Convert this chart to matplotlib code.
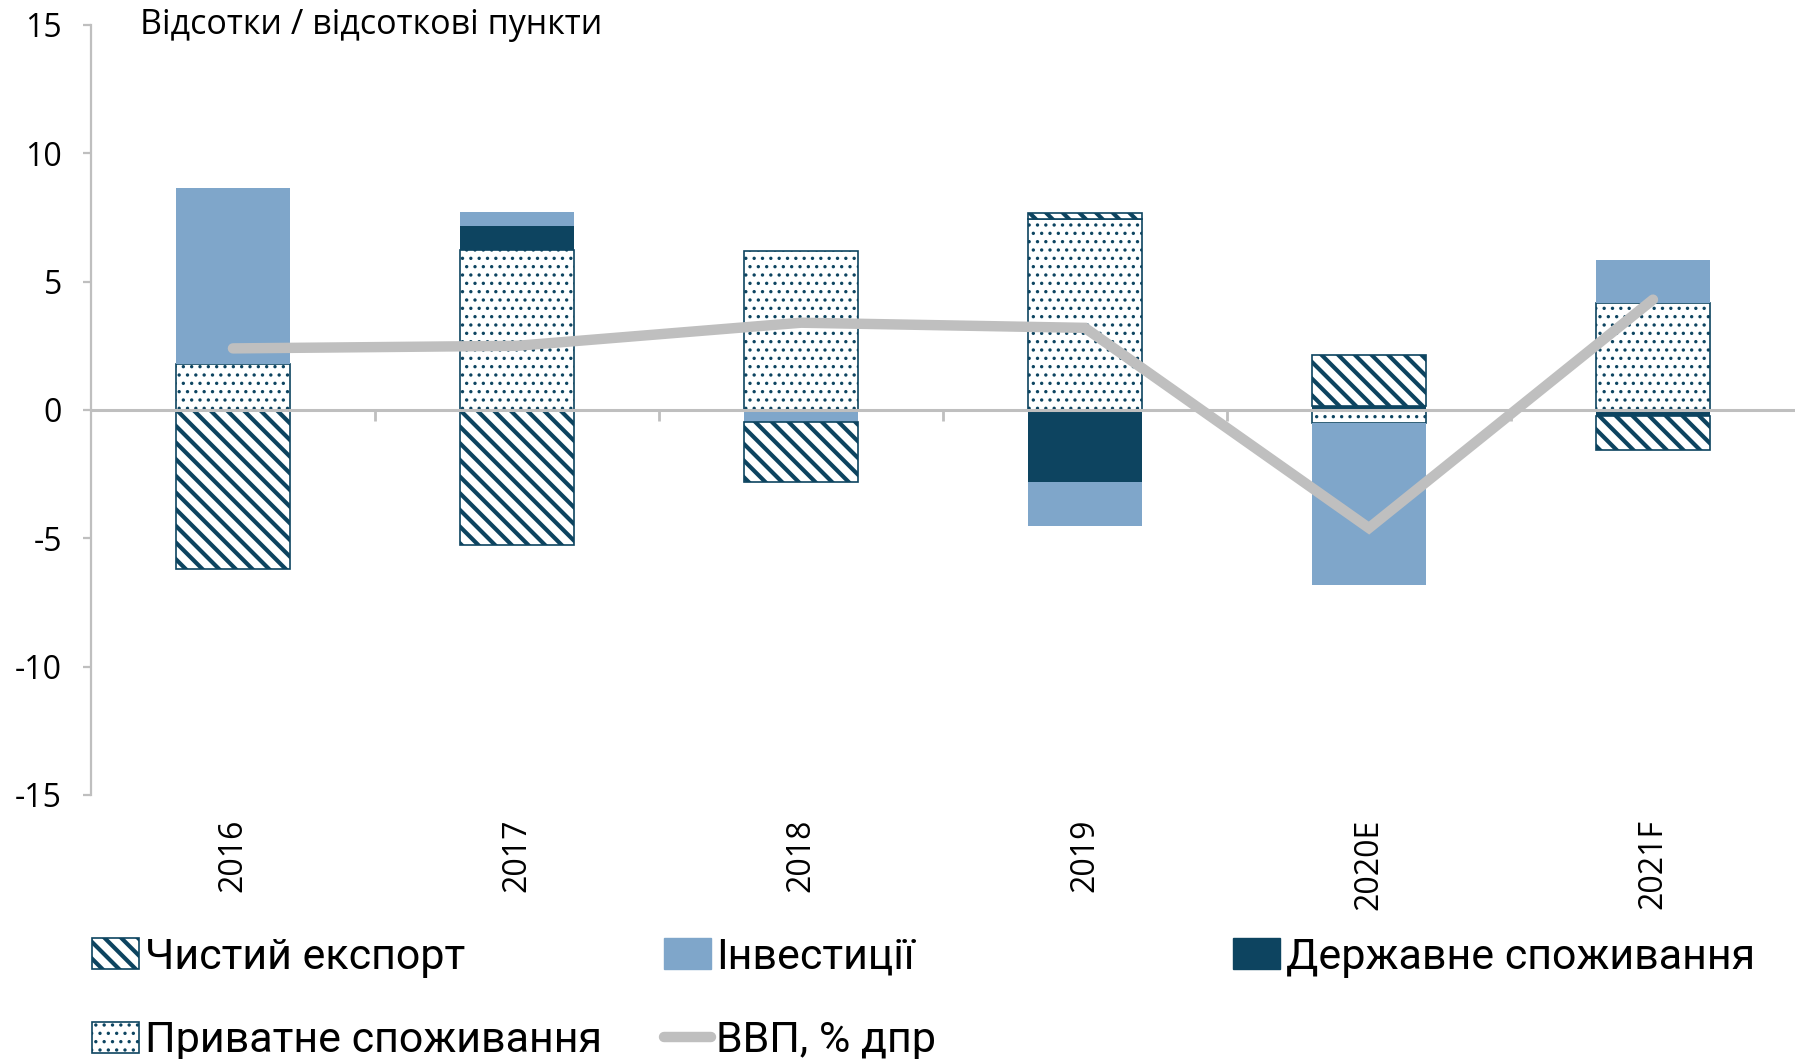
import numpy as np
import matplotlib
matplotlib.use("Agg")
import matplotlib.pyplot as plt
from matplotlib.patches import Patch
from matplotlib.lines import Line2D

years = ["2016", "2017", "2018", "2019", "2020E", "2021F"]
private = [1.78, 6.24, 6.19, 7.44, -0.50, 4.16]
gov = [0.0, 0.94, 0.0, -2.82, 0.15, -0.23]
inv = [6.86, 0.52, -0.45, -1.70, -6.32, 1.69]
netexp = [-6.20, -5.26, -2.35, 0.25, 2.00, -1.33]
gdp = [2.4, 2.5, 3.4, 3.2, -4.6, 4.3]

navy = "#0D4460"
light = "#7FA6CA"
grey = "#BFBFBF"

plt.rcParams["font.family"] = ["Open Sans", "DejaVu Sans"]
plt.rcParams["axes.unicode_minus"] = False
plt.rcParams["hatch.color"] = navy

stripe_lw = 3.0
dot_lw = 1.2


def set_hlw(artists, lw):
    for a in artists:
        if hasattr(a, "set_hatch_linewidth"):
            a.set_hatch_linewidth(lw)


fig = plt.figure(figsize=(18.04, 10.59), dpi=100)
ax = fig.add_axes([0.0504, 0.2493, 0.9446, 0.7271])

x = np.arange(len(years))
w = 0.4

series = [
    (private, dict(facecolor="white", edgecolor=navy, hatch="..", linewidth=1.2), dot_lw),
    (gov, dict(facecolor=navy, edgecolor=navy, linewidth=0), None),
    (inv, dict(facecolor=light, edgecolor=light, linewidth=0), None),
    (netexp, dict(facecolor="white", edgecolor=navy, hatch="\\\\", linewidth=1.2), stripe_lw),
]

pos = np.zeros(len(years))
neg = np.zeros(len(years))
for vals, style, hlw in series:
    v = np.array(vals)
    bottom = np.where(v >= 0, pos, neg)
    with plt.rc_context({"hatch.linewidth": hlw or 1.0}):
        bars = ax.bar(x, v, w, bottom=bottom, zorder=2, **style)
    if hlw:
        set_hlw(bars, hlw)
    pos = pos + np.clip(v, 0, None)
    neg = neg + np.clip(v, None, 0)

# zero line with category boundary ticks
ax.axhline(0, color=grey, lw=2.2, zorder=4)
ax.plot(x[:-1] + 0.5, np.zeros(len(x) - 1), ls="none", marker=3, ms=8,
        mew=2, color=grey, zorder=4)

ax.plot(x, gdp, color=grey, lw=7.5, solid_capstyle="round",
        solid_joinstyle="miter", zorder=6)

ax.set_xlim(-0.5, len(years) - 0.5)
ax.set_ylim(-15, 15)
ax.set_yticks(np.arange(-15, 16, 5))

for s in ["top", "right", "bottom"]:
    ax.spines[s].set_visible(False)
ax.spines["left"].set_color(grey)
ax.spines["left"].set_linewidth(1.6)

ax.tick_params(axis="y", colors=grey, labelcolor="black", labelsize=23,
               length=6, width=1.6, pad=15)
ax.set_xticks(x)
ax.set_xticklabels(years, rotation=90, fontsize=23, va="top")
ax.tick_params(axis="x", length=0, pad=17)

ax.text(0.029, 1.0, "Відсотки / відсоткові пункти", transform=ax.transAxes,
        fontsize=24.5, va="center", ha="left")

legend_items = [
    ("stripe", "Чистий експорт", 0.051, 0.096),
    ("inv", "Інвестиції", 0.368, 0.096),
    ("gov", "Державне споживання", 0.6835, 0.096),
    ("dots", "Приватне споживання", 0.051, 0.017),
    ("line", "ВВП, % дпр", 0.368, 0.017),
]
for kind, lab, lx, ly in legend_items:
    hlw = 1.0
    if kind == "stripe":
        h = Patch(facecolor="white", edgecolor=navy, hatch="\\\\", linewidth=1.2)
        hlw = stripe_lw
    elif kind == "dots":
        h = Patch(facecolor="white", edgecolor=navy, hatch="..", linewidth=1.2)
        hlw = dot_lw
    elif kind == "inv":
        h = Patch(facecolor=light, edgecolor=light)
    elif kind == "gov":
        h = Patch(facecolor=navy, edgecolor=navy)
    else:
        h = Line2D([], [], color=grey, lw=7.5, solid_capstyle="round")
    with plt.rc_context({"hatch.linewidth": hlw}):
        leg = fig.legend([h], [lab], loc="center left", bbox_to_anchor=(lx, ly),
                         frameon=False, borderpad=0, borderaxespad=0,
                         handlelength=1.1, handleheight=0.72, handletextpad=0.12,
                         prop={"family": ["Roboto", "Open Sans"], "size": 31})
    if kind in ("stripe", "dots"):
        set_hlw(leg.get_patches(), hlw)

fig.savefig("out.png", dpi=100)
